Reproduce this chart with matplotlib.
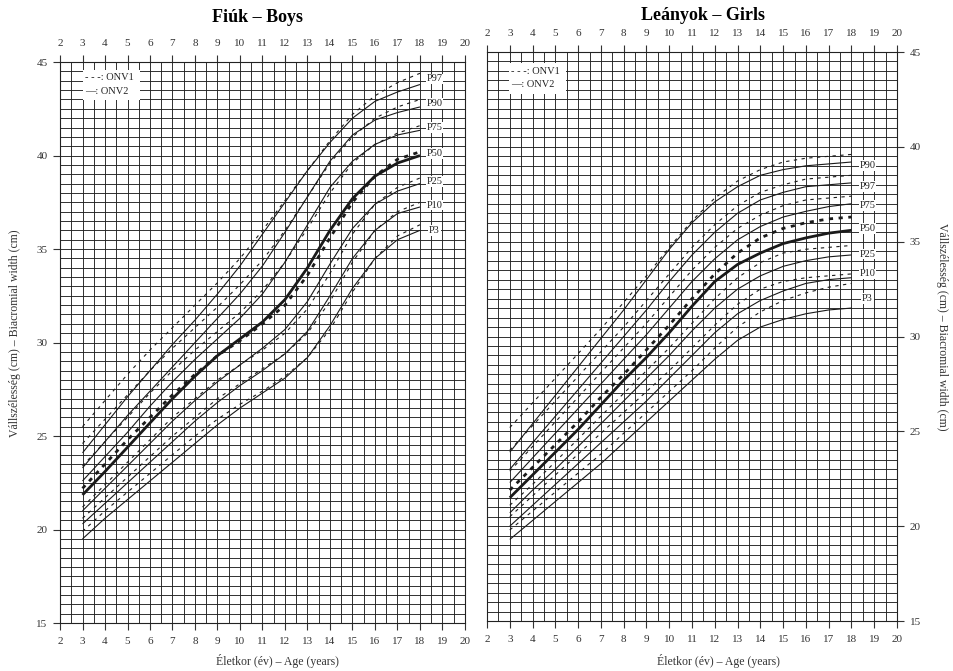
import matplotlib
matplotlib.use('Agg')
import matplotlib.pyplot as plt
from matplotlib.patches import Rectangle
from matplotlib.ticker import MultipleLocator

plt.rcParams['font.family'] = ['Liberation Serif', 'DejaVu Serif']

# eletkor (ev) - age in years
ages = [3, 4, 5, 6, 7, 8, 9, 10, 11, 12, 13, 14, 15, 16, 17, 18]

# Fiuk - Boys, ONV2 (folytonos vonal)
boys_onv2_p97 = [24.1, 25.6, 27.1, 28.5, 29.9, 31.2, 32.6, 34.1, 35.8, 37.5, 39.2, 40.7, 42.0, 42.9, 43.4, 43.8]
boys_onv2_p90 = [23.3, 24.7, 26.1, 27.4, 28.7, 30.0, 31.3, 32.6, 34.1, 35.9, 37.8, 39.7, 41.1, 41.9, 42.3, 42.6]
boys_onv2_p75 = [22.6, 23.9, 25.2, 26.6, 27.9, 29.1, 30.2, 31.3, 32.6, 34.3, 36.3, 38.3, 39.7, 40.6, 41.1, 41.35]
boys_onv2_p50 = [21.85, 23.1, 24.4, 25.7, 27.0, 28.2, 29.3, 30.2, 31.1, 32.3, 34.0, 36.0, 37.7, 38.9, 39.6, 40.0]
boys_onv2_p25 = [21.0, 22.2, 23.4, 24.6, 25.8, 26.9, 27.9, 28.8, 29.7, 30.7, 32.2, 34.2, 36.1, 37.4, 38.1, 38.5]
boys_onv2_p10 = [20.3, 21.4, 22.5, 23.6, 24.7, 25.8, 26.8, 27.7, 28.5, 29.4, 30.6, 32.5, 34.5, 36.0, 36.9, 37.25]
boys_onv2_p3 = [19.5, 20.6, 21.6, 22.6, 23.6, 24.6, 25.6, 26.5, 27.3, 28.1, 29.2, 30.9, 32.9, 34.5, 35.5, 36.0]

# Fiuk - Boys, ONV1 (szaggatott vonal)
boys_onv1_p97 = [25.5, 26.9, 28.3, 29.6, 30.8, 32.0, 33.2, 34.5, 36.0, 37.6, 39.2, 40.8, 42.2, 43.2, 43.9, 44.4]
boys_onv1_p90 = [24.6, 25.9, 27.2, 28.5, 29.7, 30.8, 31.9, 33.1, 34.4, 36.0, 37.8, 39.6, 41.0, 42.0, 42.6, 43.0]
boys_onv1_p75 = [23.4, 24.7, 26.0, 27.3, 28.5, 29.6, 30.6, 31.6, 32.8, 34.3, 36.1, 38.0, 39.6, 40.6, 41.2, 41.6]
boys_onv1_p50 = [22.2, 23.5, 24.8, 26.0, 27.2, 28.3, 29.3, 30.1, 31.0, 32.0, 33.6, 35.6, 37.5, 38.9, 39.8, 40.2]
boys_onv1_p25 = [21.2, 22.4, 23.6, 24.8, 26.0, 27.0, 28.0, 28.8, 29.6, 30.5, 31.8, 33.7, 35.8, 37.4, 38.3, 38.8]
boys_onv1_p10 = [20.6, 21.7, 22.8, 23.9, 25.0, 26.0, 27.0, 27.8, 28.6, 29.4, 30.5, 32.2, 34.3, 36.0, 37.0, 37.5]
boys_onv1_p3 = [19.9, 21.0, 22.0, 23.0, 24.0, 25.0, 25.9, 26.7, 27.4, 28.2, 29.2, 30.7, 32.7, 34.5, 35.7, 36.3]

# Leanyok - Girls, ONV2
girls_onv2_p97 = [23.9, 25.4, 26.9, 28.4, 29.9, 31.4, 33.0, 34.6, 36.0, 37.1, 37.9, 38.5, 38.8, 39.0, 39.1, 39.2]
girls_onv2_p90 = [23.0, 24.4, 25.8, 27.2, 28.6, 30.0, 31.4, 32.9, 34.3, 35.5, 36.5, 37.2, 37.6, 37.9, 38.0, 38.1]
girls_onv2_p75 = [22.3, 23.6, 24.9, 26.2, 27.5, 28.8, 30.1, 31.5, 32.9, 34.1, 35.1, 35.8, 36.3, 36.6, 36.85, 37.0]
girls_onv2_p50 = [21.5, 22.7, 23.9, 25.1, 26.4, 27.7, 28.9, 30.2, 31.6, 32.9, 33.8, 34.4, 34.9, 35.2, 35.45, 35.6]
girls_onv2_p25 = [20.7, 21.9, 23.0, 24.2, 25.4, 26.6, 27.8, 29.0, 30.3, 31.5, 32.5, 33.2, 33.7, 34.0, 34.2, 34.3]
girls_onv2_p10 = [20.0, 21.1, 22.2, 23.3, 24.4, 25.5, 26.6, 27.8, 29.0, 30.2, 31.2, 31.9, 32.4, 32.8, 33.0, 33.1]
girls_onv2_p3 = [19.3, 20.3, 21.3, 22.3, 23.3, 24.4, 25.5, 26.6, 27.7, 28.8, 29.8, 30.5, 30.9, 31.2, 31.4, 31.5]

# Leanyok - Girls, ONV1
girls_onv1_p97 = [25.2, 26.5, 27.8, 29.1, 30.4, 31.8, 33.2, 34.7, 36.1, 37.3, 38.2, 38.8, 39.2, 39.4, 39.5, 39.6]
girls_onv1_p90 = [24.0, 25.3, 26.6, 27.9, 29.2, 30.5, 31.9, 33.3, 34.7, 35.9, 36.9, 37.6, 38.0, 38.3, 38.4, 38.5]
girls_onv1_p75 = [22.9, 24.2, 25.5, 26.8, 28.1, 29.4, 30.7, 32.1, 33.5, 34.7, 35.7, 36.4, 36.9, 37.2, 37.3, 37.4]
girls_onv1_p50 = [21.9, 23.1, 24.3, 25.5, 26.8, 28.0, 29.3, 30.6, 32.0, 33.3, 34.4, 35.2, 35.7, 36.0, 36.2, 36.3]
girls_onv1_p25 = [21.1, 22.2, 23.4, 24.6, 25.8, 27.0, 28.2, 29.4, 30.7, 32.0, 33.1, 33.9, 34.4, 34.6, 34.7, 34.8]
girls_onv1_p10 = [20.5, 21.6, 22.7, 23.8, 24.9, 26.0, 27.1, 28.2, 29.4, 30.6, 31.7, 32.5, 32.9, 33.1, 33.2, 33.3]
girls_onv1_p3 = [19.8, 20.8, 21.8, 22.8, 23.8, 24.9, 26.0, 27.1, 28.2, 29.4, 30.5, 31.3, 31.9, 32.3, 32.6, 32.8]

# percentilis cimkek a gorbek vegen
boys_labels = ['P97', 'P90', 'P75', 'P50', 'P25', 'P10', 'P3']
boys_label_y = [44.1, 42.8, 41.5, 40.1, 38.6, 37.35, 36.0]
girls_labels = ['P90', 'P97', 'P75', 'P50', 'P25', 'P10', 'P3']
girls_label_y = [39.0, 37.9, 36.9, 35.7, 34.35, 33.3, 32.0]

x_ticks = list(range(2, 21))
y_ticks = [15, 20, 25, 30, 35, 40, 45]

boys_curves = {
    'ONV2': [boys_onv2_p97, boys_onv2_p90, boys_onv2_p75, boys_onv2_p50, boys_onv2_p25, boys_onv2_p10, boys_onv2_p3],
    'ONV1': [boys_onv1_p97, boys_onv1_p90, boys_onv1_p75, boys_onv1_p50, boys_onv1_p25, boys_onv1_p10, boys_onv1_p3],
}
girls_curves = {
    'ONV2': [girls_onv2_p97, girls_onv2_p90, girls_onv2_p75, girls_onv2_p50, girls_onv2_p25, girls_onv2_p10, girls_onv2_p3],
    'ONV1': [girls_onv1_p97, girls_onv1_p90, girls_onv1_p75, girls_onv1_p50, girls_onv1_p25, girls_onv1_p10, girls_onv1_p3],
}

fig = plt.figure(figsize=(9.54, 6.71), dpi=100)
ax_b = fig.add_axes([0.0629, 0.0715, 0.4245, 0.836])
ax_g = fig.add_axes([0.5105, 0.0745, 0.4298, 0.848])

ink = '#1a1a1a'


def draw_panel(ax, curves, labels, label_y, label_x, legend_box, right_side):
    ax.set_xlim(2, 20)
    ax.set_ylim(15, 45)
    ax.set_xticks(x_ticks)
    ax.set_yticks(y_ticks)
    ax.xaxis.set_minor_locator(MultipleLocator(0.5))
    ax.yaxis.set_minor_locator(MultipleLocator(0.5))
    ax.grid(which='both', color='#222222', linewidth=0.65)
    ax.set_axisbelow(True)
    for s in ax.spines.values():
        s.set_color('#222222')
        s.set_linewidth(0.8)
    ax.tick_params(axis='x', which='major', top=True, bottom=True, labeltop=True,
                   direction='out', length=5, width=0.8, pad=5, labelsize=8, colors='#333333')
    ax.tick_params(axis='y', which='major', direction='out', length=5, width=0.8,
                   pad=4, labelsize=8, colors='#333333')
    ax.tick_params(which='minor', length=0)
    if right_side:
        ax.yaxis.tick_right()
    else:
        ax.yaxis.tick_left()

    # ONV2 - folytonos, ONV1 - szaggatott
    for i, vals in enumerate(curves['ONV2']):
        lw = 2.0 if i == 3 else 0.8
        ax.plot(ages, vals, color=ink, linewidth=lw, solid_capstyle='butt', zorder=3)
    for i, vals in enumerate(curves['ONV1']):
        if i == 3:
            ax.plot(ages, vals, color=ink, linewidth=2.0, linestyle=(0, (1.5, 2.0)), zorder=3)
        else:
            ax.plot(ages, vals, color=ink, linewidth=0.8, linestyle=(0, (3, 4)), zorder=3)

    for lab, yy in zip(labels, label_y):
        ax.text(label_x, yy, lab, fontsize=7.5, ha='center', va='center', color='#222222',
                bbox=dict(facecolor='white', edgecolor='none', pad=0.6), zorder=4)

    x0, x1, y0, y1 = legend_box
    ax.add_patch(Rectangle((x0, y0), x1 - x0, y1 - y0, facecolor='white',
                           edgecolor='none', zorder=2))
    ax.text(x0 + 0.1, y1 - 0.45, '- - -: ONV1', fontsize=7.5, va='center', color='#222222', zorder=4)
    ax.text(x0 + 0.1, y0 + 0.5, '—: ONV2', fontsize=7.5, va='center', color='#222222', zorder=4)


draw_panel(ax_b, boys_curves, boys_labels, boys_label_y, 18.65,
           (3.0, 5.55, 42.95, 44.6), right_side=False)
draw_panel(ax_g, girls_curves, girls_labels, girls_label_y, 18.7,
           (2.95, 5.45, 42.8, 44.4), right_side=True)

fig.text(258 / 954, 1 - 18 / 671, 'Fiúk – Boys', fontsize=13, fontweight='bold',
         ha='center', va='center')
fig.text(703 / 954, 1 - 15 / 671, 'Leányok – Girls', fontsize=13, fontweight='bold',
         ha='center', va='center')

fig.text(277 / 954, 1 - 661 / 671, 'Életkor (év) – Age (years)', fontsize=8.5,
         ha='center', va='center', color='#333333')
fig.text(718 / 954, 1 - 661 / 671, 'Életkor (év) – Age (years)', fontsize=8.5,
         ha='center', va='center', color='#333333')

fig.text(15 / 954, 1 - 333 / 671, 'Vállszélesség (cm) – Biacromial width (cm)',
         fontsize=8.5, rotation=90, ha='center', va='center', color='#333333')
fig.text(942 / 954, 1 - 327 / 671, 'Vállszélesség (cm) – Biacromial width (cm)',
         fontsize=8.5, rotation=270, ha='center', va='center', color='#333333')

fig.savefig('out.png', dpi=100)
